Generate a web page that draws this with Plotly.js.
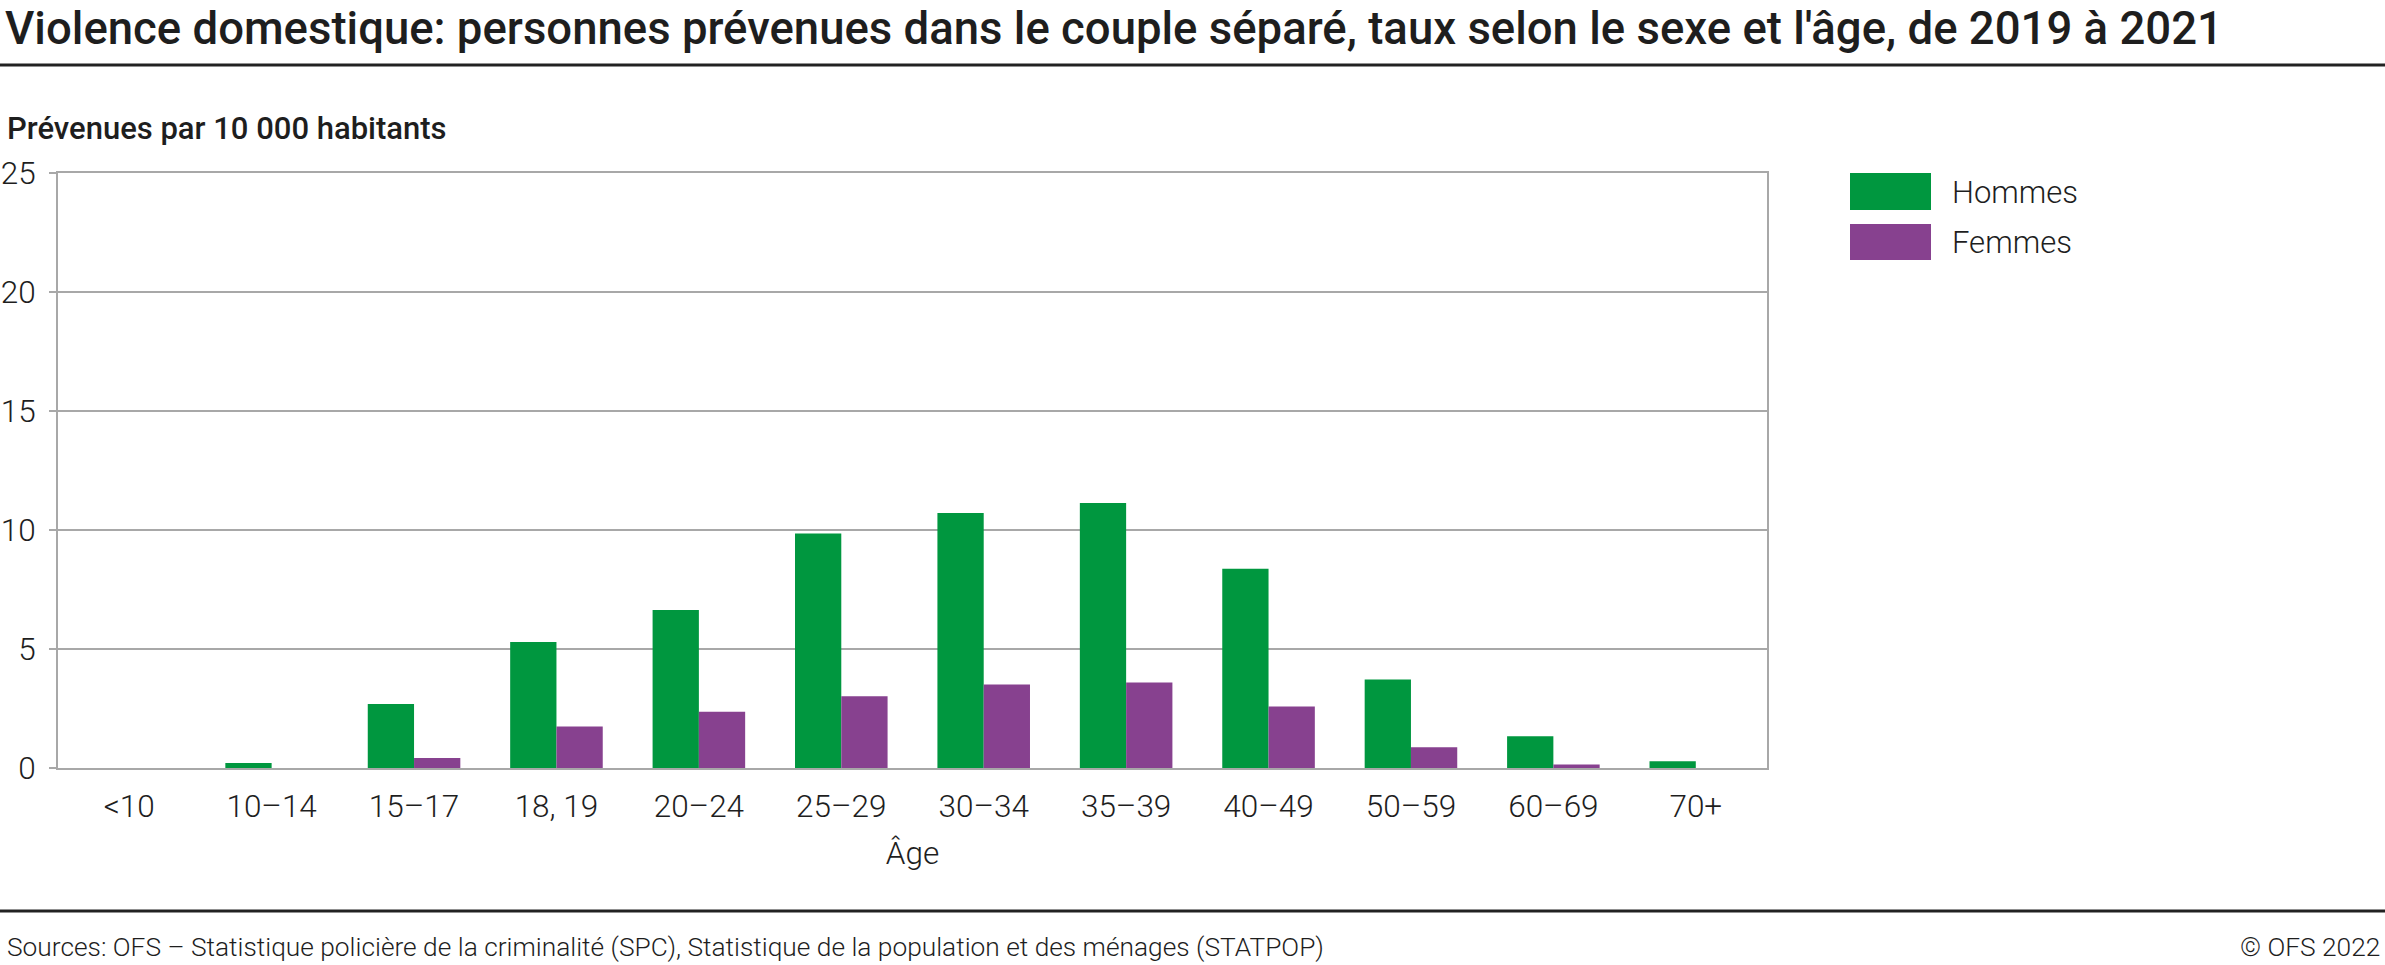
<!DOCTYPE html>
<html>
<head>
<meta charset="utf-8">
<script src="https://cdn.plot.ly/plotly-3.0.1.min.js"></script>
<style>html,body{margin:0;padding:0;background:#fff;}#chart{width:2385px;height:965px;}</style>
</head>
<body>
<div id="chart"></div>
<script>
const categories = ['<10', '10–14', '15–17', '18, 19', '20–24', '25–29', '30–34', '35–39', '40–49', '50–59', '60–69', '70+'];
const hommes = [0, 0.21, 2.69, 5.29, 6.64, 9.85, 10.71, 11.13, 8.37, 3.72, 1.33, 0.28];
const femmes = [0, 0, 0.42, 1.74, 2.36, 3.01, 3.51, 3.59, 2.58, 0.87, 0.15, 0];
const seriesNames = ['Hommes', 'Femmes'];
const yTicks = [0, 5, 10, 15, 20, 25];

const W = 2385, H = 965;
const M = {l: 58, r: W - 1767, t: 173, b: H - 768};
const PW = W - M.l - M.r, PH = H - M.t - M.b;
const px = x => (x - M.l) / PW;
const py = y => (H - M.b - y) / PH;

const GREEN = '#00973f', PURPLE = '#87418f', GRID = '#a8a8a8', TXT = '#1e1e1e';
const FONT = 'Roboto, "Open Sans", sans-serif';

const traces = [
  {type: 'bar', name: seriesNames[0], x: categories, y: hommes, marker: {color: GREEN}, showlegend: false},
  {type: 'bar', name: seriesNames[1], x: categories, y: femmes, marker: {color: PURPLE}, showlegend: false}
];

function hline(y, color, w) {
  return {type: 'line', xref: 'paper', yref: 'paper', x0: px(0), x1: px(W), y0: py(y), y1: py(y), line: {color: color, width: w}};
}
function rect(x0, y0, x1, y1, color) {
  return {type: 'rect', xref: 'paper', yref: 'paper', x0: px(x0), x1: px(x1), y0: py(y1), y1: py(y0), fillcolor: color, line: {width: 0}};
}
function note(text, x, y, xanchor, size, weight) {
  return {text: text, xref: 'paper', yref: 'paper', x: px(x), y: py(y), xanchor: xanchor, yanchor: 'middle', showarrow: false,
    font: {family: FONT, size: size, color: TXT, weight: weight}};
}

const layout = {
  width: W, height: H, autosize: false,
  margin: M,
  paper_bgcolor: '#fff', plot_bgcolor: '#fff',
  barmode: 'group', bargap: 0.35, bargroupgap: 0,
  font: {family: FONT, color: TXT, size: 31, weight: 300},
  title: {
    text: 'Violence domestique: personnes prévenues dans le couple séparé, taux selon le sexe et l\'âge, de 2019 à 2021',
    x: 5 / W, xanchor: 'left', xref: 'container', y: 1 - 28 / H, yref: 'container', yanchor: 'middle',
    font: {family: FONT, size: 45.5, weight: 500, color: TXT}
  },
  xaxis: {
    type: 'category', tickvals: categories, ticktext: categories,
    ticks: '', showgrid: false, zeroline: false,
    showline: true, mirror: true, linecolor: GRID, linewidth: 2,
    tickfont: {family: FONT, size: 31.5, weight: 300, color: TXT},
    ticklabelstandoff: 9,
    title: {text: 'Âge', standoff: 18, font: {family: FONT, size: 31.5, weight: 300, color: TXT}}
  },
  yaxis: {
    range: [0, 25], tickvals: yTicks, ticktext: yTicks.map(String),
    ticks: 'outside', ticklen: 7, tickwidth: 2, tickcolor: GRID,
    showgrid: true, gridcolor: GRID, gridwidth: 2, zeroline: false,
    showline: true, mirror: true, linecolor: GRID, linewidth: 2,
    tickfont: {family: FONT, size: 31.5, weight: 300, color: TXT},
    ticklabelstandoff: 7
  },
  shapes: [
    hline(65, '#222', 3),
    hline(911, '#222', 3),
    rect(1850, 173, 1931, 210, GREEN),
    rect(1850, 224, 1931, 260, PURPLE)
  ],
  annotations: [
    note('Prévenues par 10 000 habitants', 5, 128, 'left', 31, 500),
    note(seriesNames[0], 1950, 192, 'left', 31, 300),
    note(seriesNames[1], 1950, 242, 'left', 31, 300),
    note('Sources: OFS – Statistique policière de la criminalité (SPC), Statistique de la population et des ménages (STATPOP)', 5, 947, 'left', 26.3, 300),
    note('© OFS 2022', 2382, 947, 'right', 26.3, 300)
  ]
};

Plotly.newPlot('chart', traces, layout, {displayModeBar: false, staticPlot: true});
</script>
</body>
</html>
